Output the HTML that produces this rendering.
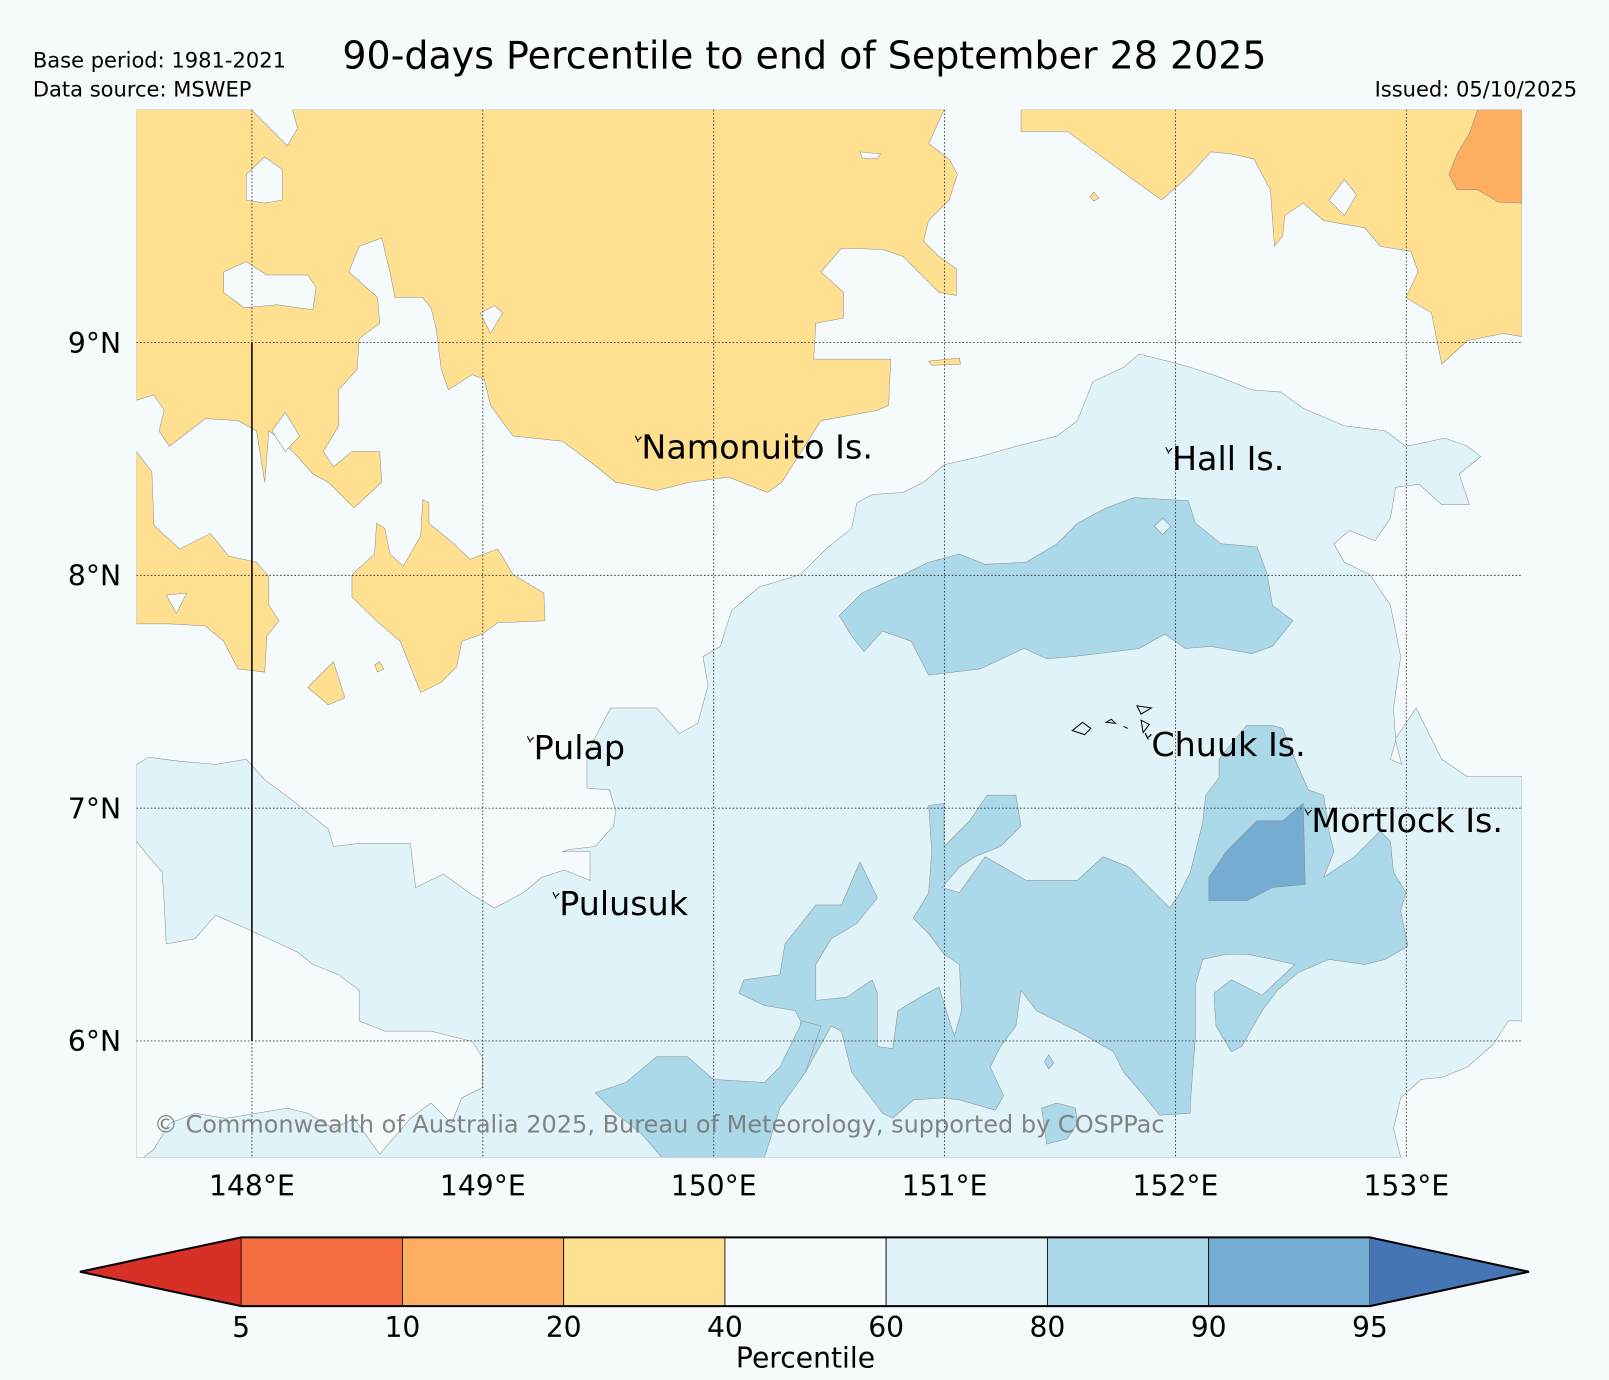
<!DOCTYPE html>
<html><head><meta charset="utf-8"><style>
html,body{margin:0;padding:0;background:#f5fafd;}
svg{display:block;font-family:"DejaVu Sans","Liberation Sans",sans-serif;}
</style></head><body>
<svg id="chart" width="1609" height="1380" viewBox="0 0 1568 1345" preserveAspectRatio="none" xmlns="http://www.w3.org/2000/svg">
<defs><clipPath id="ax"><rect x="133" y="107" width="1350" height="1021"/></clipPath></defs>
<rect x="0" y="0" width="1568" height="1345" fill="#f5fafd"/>
<text x="784" y="67" font-size="37" text-anchor="middle">90-days Percentile to end of September 28 2025</text>
<text x="32" y="66" font-size="20.5">Base period: 1981-2021</text>
<text x="32" y="94" font-size="20.5">Data source: MSWEP</text>
<text x="1537" y="94" font-size="20.5" text-anchor="end">Issued: 05/10/2025</text>
<g id="map" clip-path="url(#ax)"></g>
<g id="overlay"></g>
<g id="cbar"></g>
</svg>
<script>
// axis extents
const lonTicks = [148,149,150,151,152,153];
const latTicks = [6,7,8,9];
const lonRange = [147.5,153.5];
const latRange = [5.5,10.0];
const cbLevels = [5,10,20,40,60,80,90,95];
const cbColors = ["#d73027","#f46d43","#fdae61","#fee090","#f5fafd","#e0f3f8","#abd9e9","#74add1","#4575b4"];
const places = ["Namonuito Is.","Hall Is.","Pulap","Chuuk Is.","Mortlock Is.","Pulusuk"];
const placeLon = [149.678,151.976,149.211,151.887,152.58,149.322];
const placeLat = [8.573,8.524,7.282,7.295,6.969,6.612];

const X0=133,X1=1483,Y0=107,Y1=1128;
function xs(lon){return X0+(lon-lonRange[0])/(lonRange[1]-lonRange[0])*(X1-X0);}
function ys(lat){return Y0+(latRange[1]-lat)/(latRange[1]-latRange[0])*(Y1-Y0);}

// contour outlines (map-space outline vertices)
const contours = [
 {c:"#fee090",p:[133,107,245,107,268,130,280,142,290,125,285,107,920,107,905,140,925,155,933,170,925,195,905,215,900,235,915,250,932,262,932,288,915,285,895,265,880,250,860,243,820,242,800,265,822,285,822,310,795,315,793,350,868,350,866,395,855,400,800,410,762,470,748,480,710,465,672,470,640,478,600,470,575,450,548,430,500,425,478,395,472,370,460,365,437,380,430,360,425,320,420,300,412,290,385,290,380,265,372,232,350,240,340,265,368,290,370,315,350,330,348,360,330,380,330,415,315,440,325,455,343,440,370,440,372,470,345,495,320,470,305,462,290,445,275,430,262,420,258,470,250,420,232,410,200,408,165,435,155,420,160,400,150,385,133,390]},
 {c:"#f5fafd",p:[240,170,258,153,275,165,275,195,258,198,240,195]},
 {c:"#f5fafd",p:[218,265,240,255,260,268,300,268,308,280,305,302,270,297,238,300,218,285]},
 {c:"#f5fafd",p:[468,305,482,298,490,305,478,325]},
 {c:"#f5fafd",p:[265,420,278,402,292,425,278,440]},
 {c:"#f5fafd",p:[838,148,858,150,855,155,840,154]},
 {c:"#fee090",p:[133,440,148,460,150,512,175,535,205,520,223,542,250,548,262,562,262,590,272,605,260,620,258,655,232,652,218,625,200,610,165,608,133,608]},
 {c:"#f5fafd",p:[162,580,182,578,172,598]},
 {c:"#fee090",p:[343,560,365,540,367,510,375,515,380,540,393,552,410,522,412,487,418,490,418,510,440,528,458,545,485,535,500,560,530,578,531,605,485,607,470,618,450,625,445,650,430,665,410,675,400,650,390,625,370,608,343,582]},
 {c:"#fee090",p:[300,670,325,645,336,680,320,687]},
 {c:"#fee090",p:[365,648,370,645,374,652,368,655]},
 {c:"#fee090",p:[905,352,935,349,936,355,908,356]},
 {c:"#fee090",p:[995,107,995,128,1040,128,1070,150,1100,172,1132,195,1160,170,1180,148,1200,150,1222,155,1238,185,1242,240,1250,230,1252,210,1270,198,1290,215,1330,222,1345,240,1375,245,1382,265,1370,290,1395,305,1405,355,1430,332,1465,325,1483,328,1483,107]},
 {c:"#f5fafd",p:[1295,195,1310,175,1322,190,1310,210]},
 {c:"#fdae61",p:[1440,107,1483,107,1483,198,1460,197,1440,185,1420,185,1412,170,1420,150,1432,130]},
 {c:"#fee090",p:[1062,192,1066,187,1071,193,1066,196]},
 {c:"#e0f3f8",p:[133,745,145,738,175,742,210,745,240,740,258,760,285,780,320,808,325,825,350,822,400,822,405,865,432,852,460,872,482,885,510,870,528,855,550,848,575,858,575,830,548,830,555,828,580,825,598,805,600,790,594,770,572,768,572,735,582,715,595,690,640,690,662,715,680,705,690,668,685,640,702,630,713,595,740,572,780,560,805,535,830,515,835,490,850,482,880,480,900,470,920,453,955,445,990,435,1030,425,1050,410,1065,372,1095,358,1110,345,1138,352,1160,358,1190,368,1220,380,1248,382,1270,398,1310,415,1350,420,1370,435,1385,432,1408,427,1430,435,1443,445,1422,462,1432,492,1405,492,1383,472,1360,475,1355,505,1340,527,1315,517,1300,530,1310,548,1335,560,1345,575,1355,590,1365,640,1358,690,1360,720,1380,690,1405,740,1430,757,1483,757,1483,995,1470,995,1455,1018,1430,1040,1405,1050,1385,1052,1365,1070,1358,1100,1365,1128,133,1128]},
 {c:"#f5fafd",p:[1355,740,1360,722,1366,745]},
 {c:"#f5fafd",p:[133,820,145,835,158,850,160,880,162,920,190,915,210,892,240,905,262,915,290,928,305,940,330,950,350,965,350,995,375,1005,420,1005,460,1015,470,1030,470,1060,450,1070,440,1095,420,1075,400,1090,370,1125,345,1090,325,1100,300,1085,280,1080,250,1085,220,1090,190,1085,165,1095,150,1120,140,1128,133,1128]},
 {c:"#abd9e9",p:[818,600,840,578,880,560,905,548,935,540,960,550,1000,548,1030,530,1050,510,1078,495,1105,485,1158,488,1165,510,1190,530,1225,533,1235,560,1240,590,1260,605,1240,630,1220,637,1180,630,1155,632,1135,618,1110,632,1070,637,1045,640,1020,642,998,632,955,652,930,655,905,658,888,625,860,615,842,635,830,620]},
 {c:"#e0f3f8",p:[1125,513,1133,505,1141,513,1133,521]},
 {c:"#abd9e9",p:[720,968,725,955,760,950,765,920,795,882,820,882,838,840,855,875,835,900,810,915,795,940,795,975,825,972,850,955,855,968,855,1020,870,1022,875,985,900,970,915,962,930,1010,937,985,935,940,920,930,905,910,890,895,905,870,908,830,905,785,920,783,920,825,945,800,962,775,990,775,995,805,975,825,950,835,935,845,918,865,935,870,960,835,1000,858,1050,858,1075,835,1100,845,1130,875,1140,885,1150,870,1160,850,1172,802,1175,775,1188,758,1188,740,1200,725,1215,707,1240,707,1250,710,1262,740,1275,770,1290,775,1295,810,1300,830,1290,855,1320,835,1345,810,1355,820,1358,850,1370,870,1365,888,1372,922,1350,935,1330,940,1295,935,1265,948,1245,965,1230,985,1210,1020,1200,1025,1185,1000,1183,968,1200,955,1230,970,1262,940,1240,935,1215,930,1195,930,1172,935,1165,960,1165,1010,1160,1075,1160,1085,1130,1087,1115,1068,1095,1045,1085,1025,1050,1005,1010,985,995,965,990,1000,975,1020,965,1040,978,1068,970,1082,935,1072,920,1070,890,1072,870,1090,860,1085,830,1045,820,1005,810,1000,785,1045,780,995,775,985,745,980]},
 {c:"#abd9e9",p:[580,1065,610,1055,640,1030,670,1030,695,1052,745,1055,760,1040,782,995,800,1000,785,1045,760,1080,745,1128,645,1128,625,1105,600,1085]},
 {c:"#abd9e9",p:[1015,1080,1030,1075,1048,1080,1050,1095,1040,1110,1020,1115]},
 {c:"#abd9e9",p:[1018,1035,1022,1028,1027,1036,1022,1042]},
 {c:"#74add1",p:[1178,855,1195,830,1225,800,1250,800,1270,783,1272,862,1240,865,1215,878,1178,878]}
];

const NS="http://www.w3.org/2000/svg";
function mk(tag,attrs,parent){const e=document.createElementNS(NS,tag);for(const k in attrs)e.setAttribute(k,attrs[k]);parent.appendChild(e);return e;}
const map=document.getElementById('map');
const ov=document.getElementById('overlay');
const cb=document.getElementById('cbar');

mk('rect',{x:X0,y:Y0,width:X1-X0,height:Y1-Y0,fill:"#f5fafd"},map);
contours.forEach((ct,i)=>{
  const pts=[];for(let j=0;j<ct.p.length;j+=2)pts.push(ct.p[j]+","+ct.p[j+1]);
  const e=mk('polygon',{points:pts.join(" "),fill:ct.c,stroke:"#8a8a8a","stroke-width":0.5},map);
  
  
});
// gridlines
lonTicks.forEach(l=>{
  const e=mk('line',{x1:xs(l),x2:xs(l),y1:Y0,y2:Y1,stroke:"#333","stroke-width":0.9,"stroke-dasharray":"1.5,2"},ov);
  
  
  const t=mk('text',{x:xs(l),y:1165,"font-size":27.5,"text-anchor":"middle"},ov);t.textContent=l+"°E";
  
  
});
latTicks.forEach(l=>{
  const e=mk('line',{x1:X0,x2:X1,y1:ys(l),y2:ys(l),stroke:"#333","stroke-width":0.9,"stroke-dasharray":"1.5,2"},ov);
  
  
  const t=mk('text',{x:118,y:ys(l)+10,"font-size":27.5,"text-anchor":"end"},ov);t.textContent=l+"°N";
  
  
});
const vl=mk('line',{x1:xs(148),x2:xs(148),y1:ys(9),y2:ys(6),stroke:"#000","stroke-width":1.5},ov);


// places
places.forEach((p,i)=>{
  const x=xs(placeLon[i]),y=ys(placeLat[i]);
  const m=mk('path',{d:`M${x-4},${y-6} l3,6 M${x-1},${y-2} l3,-3`,stroke:"#000","stroke-width":1.2,fill:"none"},ov);
  
  
  const t=mk('text',{x:x+2,y:y+16,"font-size":32.5},ov);t.textContent=p;
  
  
});
// Chuuk islands small shapes
const ch=mk('path',{d:"M1045,712 l10,-8 l8,6 l-6,6z M1078,704 l5,-3 l4,4z M1108,688 l14,2 l-10,6z M1112,702 l8,4 l-6,8z M1095,708 l4,2",stroke:"#000","stroke-width":1,fill:"none"},ov);


const cp=mk('text',{x:150,y:1104,"font-size":23.4,fill:"#777","fill-opacity":0.9},ov);
cp.textContent="© Commonwealth of Australia 2025, Bureau of Meteorology, supported by COSPPac";



// colorbar
const CB0=235,CB1=1335,CBT=1206,CBB=1273,TIPL=78,TIPR=1490;
function cx(i){return CB0+i*(CB1-CB0)/(cbLevels.length-1);}
const lt=mk('polygon',{points:`${TIPL},${(CBT+CBB)/2} ${CB0},${CBT} ${CB0},${CBB}`,fill:cbColors[0]},cb);


for(let i=0;i<cbLevels.length-1;i++){
  const r=mk('rect',{x:cx(i),y:CBT,width:cx(i+1)-cx(i),height:CBB-CBT,fill:cbColors[i+1],stroke:"#000","stroke-width":0.8},cb);
  
  
}
const rt=mk('polygon',{points:`${CB1},${CBT} ${TIPR},${(CBT+CBB)/2} ${CB1},${CBB}`,fill:cbColors[8]},cb);


const ol=mk('polygon',{points:`${TIPL},${(CBT+CBB)/2} ${CB0},${CBT} ${CB1},${CBT} ${TIPR},${(CBT+CBB)/2} ${CB1},${CBB} ${CB0},${CBB}`,fill:"none",stroke:"#000","stroke-width":2},cb);


cbLevels.forEach((v,i)=>{
  const t=mk('text',{x:cx(i),y:1303,"font-size":27.5,"text-anchor":"middle"},cb);t.textContent=v;
  
  
});
const ct=mk('text',{x:785,y:1333,"font-size":27.5,"text-anchor":"middle"},cb);ct.textContent="Percentile";


</script>
</body></html>
